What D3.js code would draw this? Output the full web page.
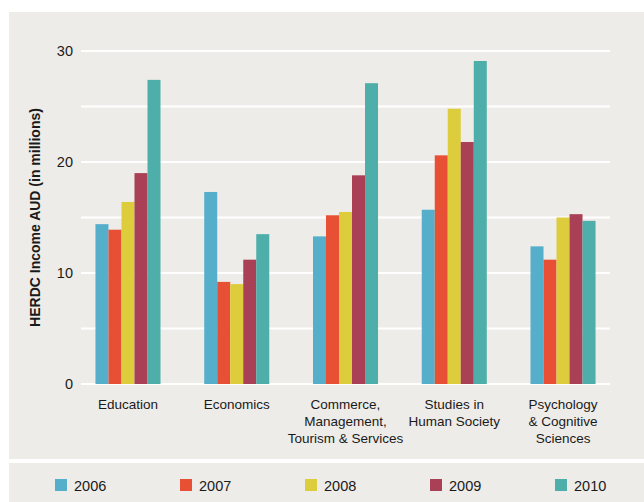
<!DOCTYPE html>
<html>
<head>
<meta charset="utf-8">
<script src="https://cdn.jsdelivr.net/npm/d3@7"></script>
<style>
  html, body { margin: 0; padding: 0; background: #ffffff; }
  svg { display: block; font-family: "Liberation Sans", Arial, sans-serif; }
</style>
</head>
<body>
<svg id="chart" width="644" height="502"></svg>
<script>
// Research income by field, 2006–2010
const categories = [
  ["Education"],
  ["Economics"],
  ["Commerce,", "Management,", "Tourism & Services"],
  ["Studies in", "Human Society"],
  ["Psychology", "& Cognitive", "Sciences"]
];
const years = ["2006", "2007", "2008", "2009", "2010"];
const colors = ["#56afca", "#e85035", "#ddcd3c", "#a94056", "#4daeaa"];

// Values in millions of AUD, one array per year (order follows categories)
const v2006 = [14.4, 17.3, 13.3, 15.7, 12.4];
const v2007 = [13.9, 9.2, 15.2, 20.6, 11.2];
const v2008 = [16.4, 9.0, 15.5, 24.8, 15.0];
const v2009 = [19.0, 11.2, 18.8, 21.8, 15.3];
const v2010 = [27.4, 13.5, 27.1, 29.1, 14.7];
const series = [v2006, v2007, v2008, v2009, v2010];

const yTicks = [0, 10, 20, 30];
const yGrid = [0, 5, 10, 15, 20, 25, 30];

const svg = d3.select("#chart");
const bg = "#eeece8";

// Background panels
svg.append("rect").attr("x", 9).attr("y", 12).attr("width", 635).attr("height", 447).attr("fill", bg);
svg.append("rect").attr("x", 9).attr("y", 463).attr("width", 635).attr("height", 39).attr("fill", bg);

const plot = { left: 81, right: 610, top: 51, bottom: 384 };

const x0 = d3.scaleBand()
  .domain(d3.range(categories.length))
  .range([plot.left, plot.right])
  .paddingInner(0.402)
  .paddingOuter(0.133);

const x1 = d3.scaleBand()
  .domain(d3.range(years.length))
  .range([0, x0.bandwidth()])
  .padding(0);

const y = d3.scaleLinear().domain([0, 30]).range([plot.bottom, plot.top]);

// Gridlines
svg.append("g")
  .selectAll("line")
  .data(yGrid)
  .join("line")
  .attr("x1", plot.left)
  .attr("x2", plot.right)
  .attr("y1", d => y(d))
  .attr("y2", d => y(d))
  .attr("stroke", "#ffffff")
  .attr("stroke-width", 2);

// Y axis tick labels
const yAxis = d3.axisLeft(y).tickValues(yTicks).tickSize(0).tickPadding(8).tickFormat(d3.format("d"));
const yg = svg.append("g").attr("transform", `translate(${plot.left},0)`).call(yAxis);
yg.select(".domain").remove();
yg.selectAll("text")
  .attr("font-family", "'Liberation Sans', Arial, sans-serif")
  .attr("font-size", 14.5)
  .attr("fill", "#1a1a1a");

// Bars
const groups = svg.append("g")
  .selectAll("g")
  .data(categories.map((c, i) => i))
  .join("g")
  .attr("transform", i => `translate(${x0(i)},0)`);

groups.selectAll("rect")
  .data(i => series.map((s, k) => ({ k, v: s[i] })))
  .join("rect")
  .attr("x", d => x1(d.k))
  .attr("width", x1.bandwidth())
  .attr("y", d => y(d.v))
  .attr("height", d => y(0) - y(d.v))
  .attr("fill", d => colors[d.k]);

// Category labels
const labels = svg.append("g")
  .selectAll("text")
  .data(categories)
  .join("text")
  .attr("x", (d, i) => x0(i) + x0.bandwidth() / 2)
  .attr("y", 409)
  .attr("text-anchor", "middle")
  .attr("font-size", 13.5)
  .attr("fill", "#1a1a1a");
labels.selectAll("tspan")
  .data(d => d)
  .join("tspan")
  .attr("x", function () { return d3.select(this.parentNode).attr("x"); })
  .attr("dy", (d, i) => i === 0 ? 0 : 17)
  .text(d => d);

// Y axis title
svg.append("text")
  .attr("transform", `translate(40,${(plot.top + plot.bottom) / 2}) rotate(-90)`)
  .attr("text-anchor", "middle")
  .attr("font-size", 14)
  .attr("font-weight", "bold")
  .attr("fill", "#1a1a1a")
  .text("HERDC Income AUD (in millions)");

// Legend
const legendX = d3.scalePoint().domain(years).range([55, 555]);
const lg = svg.append("g")
  .selectAll("g")
  .data(years)
  .join("g")
  .attr("transform", d => `translate(${legendX(d)},479)`);
lg.append("rect")
  .attr("width", 12)
  .attr("height", 12)
  .attr("fill", (d, i) => colors[i]);
lg.append("text")
  .attr("x", 19)
  .attr("y", 11.5)
  .attr("font-size", 14.5)
  .attr("fill", "#1a1a1a")
  .text(d => d);
</script>
</body>
</html>
